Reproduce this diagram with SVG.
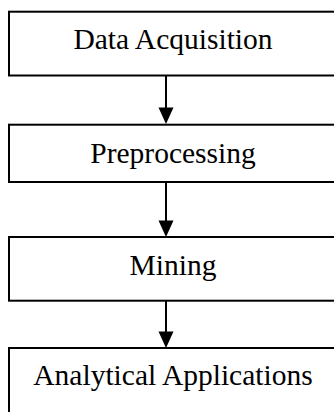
<svg xmlns="http://www.w3.org/2000/svg" width="334" height="412" viewBox="0 0 334 412">
<defs>
<style>
.box{fill:#fff;stroke:#000;stroke-width:2}
.lbl{font-family:"Liberation Serif","Times New Roman",serif;font-size:29.5px;fill:#000;text-anchor:middle}
.con{stroke:#000;stroke-width:2;fill:none}
.head{fill:#000}
</style>
</defs>
<rect width="334" height="412" fill="#fff"/>
<g id="connectors">
<line class="con" x1="166" y1="75.5" x2="166" y2="110"/>
<polygon class="head" points="158.5,107.5 173.5,107.5 166,124"/>
<line class="con" x1="166" y1="182" x2="166" y2="223"/>
<polygon class="head" points="158.5,220.5 173.5,220.5 166,237"/>
<line class="con" x1="166" y1="300.5" x2="166" y2="334"/>
<polygon class="head" points="158.5,331.5 173.5,331.5 166,348"/>
</g>
<g id="node-acquisition">
<rect class="box" x="9" y="11.7" width="330" height="63.8"/>
<text class="lbl" x="173" y="49.3">Data Acquisition</text>
</g>
<g id="node-preprocessing">
<rect class="box" x="9" y="124.7" width="330" height="57.3"/>
<text class="lbl" x="173" y="163.3">Preprocessing</text>
</g>
<g id="node-mining">
<rect class="box" x="9" y="237" width="330" height="63.7"/>
<text class="lbl" x="173" y="275">Mining</text>
</g>
<g id="node-applications">
<rect class="box" x="9" y="348" width="330" height="70"/>
<text class="lbl" x="173" y="385">Analytical Applications</text>
</g>
</svg>
